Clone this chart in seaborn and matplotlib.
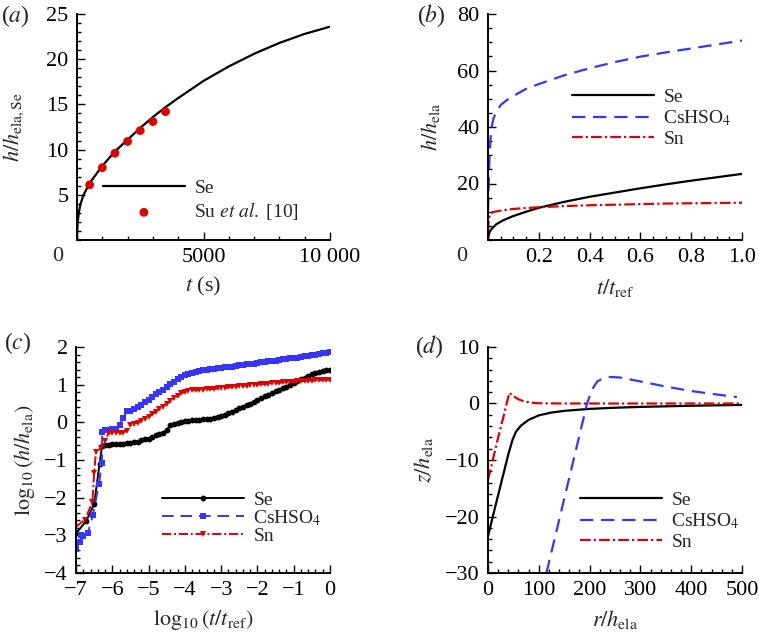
import numpy as np
import matplotlib
matplotlib.use("Agg")
import matplotlib.pyplot as plt
import seaborn as sns
from matplotlib.ticker import MultipleLocator, FixedLocator

sns.set_style("ticks")
plt.rcParams["font.family"] = ["Liberation Serif", "DejaVu Serif"]
plt.rcParams["mathtext.fontset"] = "stix"
plt.rcParams["axes.unicode_minus"] = True

BLACK = "#000000"
BLUE = "#3535ff"
RED = "#dd0000"
DASH = (0, (6, 3.5))
DASHDOT = (0, (4.8, 1.4, 1, 1.4))
FS = 16

# (a) Se against experiment
a_t = [0, 10, 30, 70, 140, 260, 500, 1000, 1500, 2000, 2500, 3000, 3500, 4000,
       5000, 6000, 7000, 8000, 9000, 10000]
a_h = [0, 1.0, 2.0, 3.0, 4.0, 5.0, 6.3, 8.2, 9.8, 11.1, 12.4, 13.6, 14.7, 15.7,
       17.6, 19.2, 20.6, 21.8, 22.8, 23.6]
su_t = [500, 1000, 1500, 2000, 2500, 3000, 3500]
su_h = [6.1, 8.0, 9.6, 10.9, 12.1, 13.1, 14.2]

# (b) linear time
b_se_t = [0, 0.002, 0.007, 0.015, 0.033, 0.06, 0.1, 0.15, 0.2, 0.3, 0.4, 0.5,
          0.6, 0.7, 0.8, 0.9, 1.0]
b_se_h = [0, 1.5, 3.0, 4.0, 5.6, 7.0, 8.5, 10.0, 11.4, 13.5, 15.3, 16.8,
          18.3, 19.7, 21.0, 22.2, 23.4]
b_cs_t = [0, 0.003, 0.006, 0.01, 0.015, 0.02, 0.03, 0.05, 0.075, 0.1, 0.15, 0.2,
          0.3, 0.4, 0.5, 0.6, 0.7, 0.8, 0.9, 1.0]
b_cs_h = [10, 20, 30, 36, 40, 42.5, 45, 47.8, 49.6, 51.0, 53.5, 55.2,
          58.3, 60.8, 63.0, 64.9, 66.4, 67.8, 69.2, 70.6]
b_sn_t = [0, 0.003, 0.008, 0.02, 0.05, 0.1, 0.2, 0.3, 0.4, 0.5, 0.6, 0.7, 0.8,
          0.9, 1.0]
b_sn_h = [3, 7, 9.2, 9.9, 10.4, 11.0, 11.6, 12.0, 12.3, 12.5, 12.7, 12.9, 13.0,
          13.1, 13.2]

# (c) log-log, one value every 0.1 from -6.2 to 0 after the early points
c_grid = [round(-6.2 + 0.1 * i, 1) for i in range(63)]
c_se_early_x = [-7.0, -6.72, -6.5, -6.35, -6.28]
c_se_early_y = [-2.95, -2.62, -2.17, -1.1, -0.62]
c_se_y = [-0.59, -0.59, -0.58, -0.58, -0.57, -0.57, -0.56, -0.54, -0.53, -0.51,
          -0.48, -0.45, -0.43, -0.39, -0.34, -0.30, -0.27, -0.20, -0.08, -0.05,
          -0.02, 0.01, 0.03, 0.04, 0.05, 0.06, 0.07, 0.08, 0.09, 0.10,
          0.12, 0.14, 0.17, 0.20, 0.24, 0.28, 0.32, 0.37, 0.41, 0.45,
          0.50, 0.55, 0.60, 0.64, 0.69, 0.73, 0.77, 0.82, 0.86, 0.91,
          0.95, 1.00, 1.04, 1.09, 1.14, 1.19, 1.23, 1.27, 1.30, 1.33,
          1.35, 1.38, 1.40]
c_cs_early_x = [-7.0, -6.89, -6.8, -6.86, -6.67, -6.53, -6.37, -6.28, -6.28]
c_cs_early_y = [-3.35, -3.17, -3.02, -3.0, -2.93, -2.45, -1.65, -1.07, -0.25]
c_cs_y = [-0.20, -0.20, -0.19, -0.18, -0.08, 0.12, 0.29, 0.31, 0.35, 0.40,
          0.46, 0.53, 0.59, 0.66, 0.74, 0.81, 0.87, 0.94, 1.01, 1.07,
          1.14, 1.20, 1.25, 1.29, 1.32, 1.34, 1.36, 1.38, 1.39, 1.41,
          1.42, 1.43, 1.45, 1.46, 1.47, 1.48, 1.50, 1.51, 1.52, 1.54,
          1.55, 1.56, 1.58, 1.59, 1.60, 1.62, 1.63, 1.64, 1.66, 1.67,
          1.68, 1.70, 1.71, 1.72, 1.74, 1.75, 1.77, 1.78, 1.80, 1.81,
          1.83, 1.84, 1.86]
c_sn_early_x = [-7.0, -6.75, -6.55, -6.5, -6.45, -6.3]
c_sn_early_y = [-2.77, -2.58, -2.12, -1.34, -0.78, -0.68]
c_sn_y = [-0.50, -0.27, -0.27, -0.27, -0.28, -0.27, -0.22, -0.08, -0.04, -0.01,
          0.04, 0.08, 0.14, 0.21, 0.28, 0.35, 0.42, 0.49, 0.56, 0.64,
          0.71, 0.77, 0.81, 0.84, 0.85, 0.86, 0.86, 0.87, 0.88, 0.88,
          0.89, 0.90, 0.91, 0.92, 0.93, 0.94, 0.95, 0.96, 0.97, 0.97,
          0.98, 0.99, 1.00, 1.01, 1.02, 1.03, 1.04, 1.05, 1.05, 1.06,
          1.07, 1.08, 1.08, 1.09, 1.10, 1.10, 1.11, 1.11, 1.12, 1.12,
          1.12, 1.13, 1.13]

# (d) surface profiles
d_se_r = [0, 10, 20, 30, 40, 48, 55, 65, 80, 100, 125, 150, 200, 250, 300, 400, 500]
d_se_z = [-23.5, -19.8, -16.2, -12.6, -9.0, -6.5, -5.0, -3.9, -2.9, -2.1, -1.6,
          -1.3, -0.95, -0.75, -0.6, -0.4, -0.25]
d_cs_r = [115, 135, 155, 175, 195, 205, 215, 225, 240, 260, 300, 350, 400, 450, 490]
d_cs_z = [-30, -22.5, -15, -7.5, 0, 2.5, 3.9, 4.4, 4.7, 4.6, 3.9, 3.0, 2.2, 1.6, 1.15]
d_sn_r = [0, 10, 20, 30, 42, 50, 60, 70, 85, 100, 150, 250, 350, 500]
d_sn_z = [-13.5, -9.8, -6.0, -2.5, 1.9, 1.3, 0.75, 0.4, 0.15, 0.05, 0.0, 0.0, 0.0, 0.0]

fig = plt.figure(figsize=(7.59, 6.38), dpi=100)
W, H = 759, 638


def make_ax(l, r, t, b):
    return fig.add_axes([l / W, 1 - b / H, (r - l) / W, (b - t) / H])


def style(ax, xmaj, xmin, ymaj, ymin):
    ax.xaxis.set_major_locator(FixedLocator(xmaj))
    ax.yaxis.set_major_locator(FixedLocator(ymaj))
    ax.xaxis.set_minor_locator(MultipleLocator(xmin))
    ax.yaxis.set_minor_locator(MultipleLocator(ymin))
    ax.tick_params(which="both", direction="in", width=1.0, labelsize=FS,
                   colors="black")
    ax.tick_params(which="major", length=6, pad=6)
    ax.tick_params(which="minor", length=3)
    for s in ["top", "right"]:
        ax.spines[s].set_visible(False)
    for s in ["left", "bottom"]:
        ax.spines[s].set_linewidth(1.4)
        ax.spines[s].set_color("black")


def legend(ax, x, y, spacing=0.15):
    leg = ax.legend(loc="upper left", bbox_to_anchor=(x, y), frameon=False,
                    fontsize=14, handlelength=4.2, handletextpad=0.5,
                    labelspacing=spacing, borderpad=0, borderaxespad=0)
    return leg


# ---- (a)
ax = make_ax(77, 330, 14, 240)
sns.lineplot(x=a_t, y=a_h, ax=ax, color=BLACK, lw=1.6, label="Se", sort=False,
             estimator=None)
sns.scatterplot(x=su_t, y=su_h, ax=ax, color=RED, s=40, edgecolor="none",
                label="Su $\\it{et\\ al.}$ [10]", zorder=3)
ax.set_xlim(0, 10000)
ax.set_ylim(0, 25)
style(ax, [5000, 10000], 1000, [5, 10, 15, 20, 25], 1)
ax.set_xticklabels(["5000", "10 000"])
ax.annotate("0", xy=(0, 0), xytext=(-14, -12), textcoords="offset points",
            ha="center", va="center", fontsize=FS, annotation_clip=False)
ax.set_xlabel("$t$ (s)", fontsize=FS)
ax.set_ylabel("$h/h_{\\mathrm{ela,Se}}$", fontsize=FS)
ax.xaxis.set_label_coords(0.5, -0.155)
ax.yaxis.set_label_coords(-0.2, 0.5)
legend(ax, 0.103, 0.27, spacing=0.2)

# ---- (b)
ax = make_ax(488, 742, 14, 240)
sns.lineplot(x=b_se_t, y=b_se_h, ax=ax, color=BLACK, lw=1.6, label="Se",
             sort=False, estimator=None)
sns.lineplot(x=b_cs_t, y=b_cs_h, ax=ax, color=BLUE, lw=1.6, linestyle=DASH,
             label="CsHSO$_4$", sort=False, estimator=None)
sns.lineplot(x=b_sn_t, y=b_sn_h, ax=ax, color=RED, lw=1.6, linestyle=DASHDOT,
             label="Sn", sort=False, estimator=None)
ax.set_xlim(0, 1.0)
ax.set_ylim(0, 80)
style(ax, [0.2, 0.4, 0.6, 0.8, 1.0], 0.05, [20, 40, 60, 80], 5)
ax.set_xticklabels(["0.2", "0.4", "0.6", "0.8", "1.0"])
ax.annotate("0", xy=(0, 0), xytext=(-19, -12), textcoords="offset points",
            ha="center", va="center", fontsize=FS, annotation_clip=False)
ax.set_xlabel("$t/t_{\\mathrm{ref}}$", fontsize=FS)
ax.set_ylabel("$h/h_{\\mathrm{ela}}$", fontsize=FS)
ax.xaxis.set_label_coords(0.5, -0.165)
ax.yaxis.set_label_coords(-0.18, 0.5)
legend(ax, 0.331, 0.67, spacing=0.12)

# ---- (c)
ax = make_ax(76, 330, 347, 573)
sns.lineplot(x=c_se_early_x + c_grid, y=c_se_early_y + c_se_y, ax=ax,
             color=BLACK, lw=1.4, marker="o", markersize=4.2, markeredgewidth=0,
             label="Se", sort=False, estimator=None)
sns.lineplot(x=c_cs_early_x + c_grid, y=c_cs_early_y + c_cs_y, ax=ax,
             color=BLUE, lw=1.4, linestyle=DASH, marker="s", markersize=4,
             markeredgewidth=0, label="CsHSO$_4$", sort=False, estimator=None)
sns.lineplot(x=c_sn_early_x + c_grid, y=c_sn_early_y + c_sn_y, ax=ax,
             color=RED, lw=1.4, linestyle=DASHDOT, marker="v", markersize=4.6,
             markeredgewidth=0, label="Sn", sort=False, estimator=None)
ax.set_xlim(-7, 0)
ax.set_ylim(-4, 2)
style(ax, list(range(-7, 1)), 0.2, list(range(-4, 3)), 0.2)
ax.set_xlabel("$\\log_{10}(t/t_{\\mathrm{ref}})$", fontsize=FS)
ax.set_ylabel("$\\log_{10}(h/h_{\\mathrm{ela}})$", fontsize=FS)
ax.xaxis.set_label_coords(0.5, -0.155)
ax.yaxis.set_label_coords(-0.155, 0.5)
legend(ax, 0.339, 0.36, spacing=-0.05)

# ---- (d)
ax = make_ax(488, 742, 347, 573)
sns.lineplot(x=d_se_r, y=d_se_z, ax=ax, color=BLACK, lw=1.6, label="Se",
             sort=False, estimator=None)
sns.lineplot(x=d_cs_r, y=d_cs_z, ax=ax, color=BLUE, lw=1.6, linestyle=DASH,
             label="CsHSO$_4$", sort=False, estimator=None)
sns.lineplot(x=d_sn_r, y=d_sn_z, ax=ax, color=RED, lw=1.6, linestyle=DASHDOT,
             label="Sn", sort=False, estimator=None)
ax.set_xlim(0, 500)
ax.set_ylim(-30, 10)
style(ax, [0, 100, 200, 300, 400, 500], 20, [-30, -20, -10, 0, 10], 2)
ax.set_xlabel("$r/h_{\\mathrm{ela}}$", fontsize=FS)
ax.set_ylabel("$z/h_{\\mathrm{ela}}$", fontsize=FS)
ax.xaxis.set_label_coords(0.5, -0.155)
ax.yaxis.set_label_coords(-0.21, 0.5)
legend(ax, 0.362, 0.36, spacing=0.12)

# panel tags
for tag, px, py in [("a", 15, 16), ("b", 431, 16), ("c", 18, 343), ("d", 429, 347)]:
    fig.text(px / W, 1 - py / H, f"(${tag}$)", fontsize=17, ha="center",
             va="center")

fig.savefig("out.png", dpi=100)
